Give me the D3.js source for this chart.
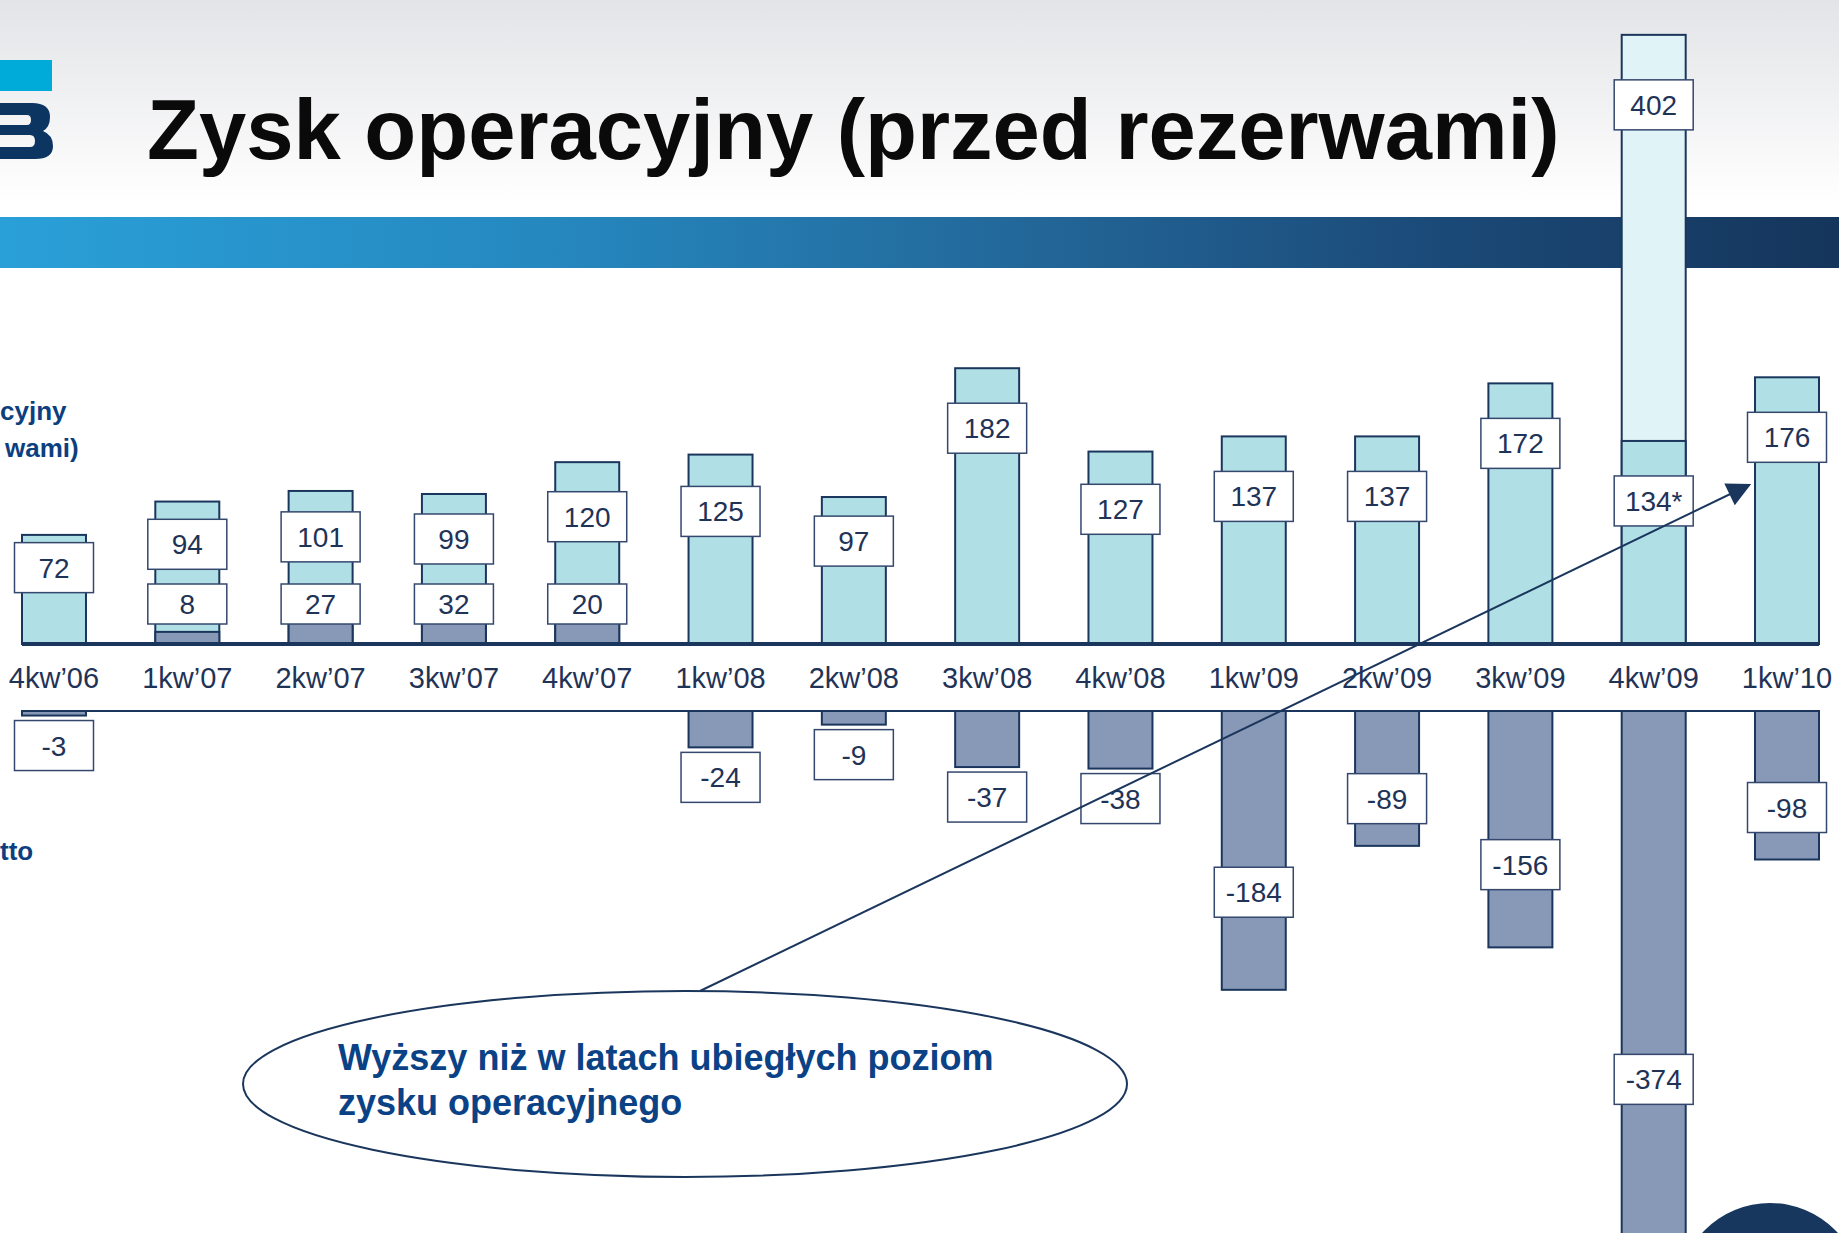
<!DOCTYPE html>
<html>
<head>
<meta charset="utf-8">
<script src="https://cdn.jsdelivr.net/npm/d3@7"></script>
<style>
  body { margin: 0; background: #fff; }
  svg { display: block; font-family: "Liberation Sans", Arial, sans-serif; }
</style>
</head>
<body>
<svg id="chart" width="1839" height="1233"></svg>
<script>
// quarters
const categories = ["4kw’06", "1kw’07", "2kw’07", "3kw’07", "4kw’07", "1kw’08", "2kw’08",
  "3kw’08", "4kw’08", "1kw’09", "2kw’09", "3kw’09", "4kw’09", "1kw’10"];
// operating profit before provisions (4kw'09 without one-off)
const profit = [72, 94, 101, 99, 120, 125, 97, 182, 127, 137, 137, 172, 134, 176];
// lower dark part of the 2007 bars
const profitPart = [0, 8, 27, 32, 20, 0, 0, 0, 0, 0, 0, 0, 0, 0];
// reported total incl. one-off
const profitReported = [null, null, null, null, null, null, null, null, null, null, null, null, 402, null];
const footnoted = ["4kw’09"];
// net provisions
const provisions = [-3, 0, 0, 0, 0, -24, -9, -37, -38, -184, -89, -156, -374, -98];

const W = 1839, H = 1233;
const navy = "#1b365d", txt = "#1f3357", cyan = "#b0dfe5", slate = "#8898b7", pale = "#e0f3f6";

const svg = d3.select("#chart");
const defs = svg.append("defs");

// header backgrounds
const gTop = defs.append("linearGradient").attr("id", "hdr").attr("x1", 0).attr("y1", 0).attr("x2", 0).attr("y2", 1);
gTop.append("stop").attr("offset", 0).attr("stop-color", "#e3e4e7");
gTop.append("stop").attr("offset", 1).attr("stop-color", "#ffffff");
const gBand = defs.append("linearGradient").attr("id", "band").attr("x1", 0).attr("y1", 0).attr("x2", 1).attr("y2", 0);
[[0, "#2aa0d8"], [0.3, "#2588bf"], [0.55, "#23689a"], [0.78, "#1b4a78"], [1, "#15355b"]].forEach(function(s) {
  gBand.append("stop").attr("offset", s[0]).attr("stop-color", s[1]);
});
defs.append("marker").attr("id", "arr").attr("viewBox", "0 0 10 10").attr("refX", 9).attr("refY", 5)
  .attr("markerWidth", 30).attr("markerHeight", 24).attr("markerUnits", "userSpaceOnUse")
  .attr("orient", "auto")
  .append("path").attr("d", "M0,0L10,5L0,10Z").attr("fill", navy);

svg.append("rect").attr("x", 0).attr("y", 0).attr("width", W).attr("height", 205).attr("fill", "url(#hdr)");
svg.append("rect").attr("x", 0).attr("y", 217).attr("width", W).attr("height", 51).attr("fill", "url(#band)");

// logo fragment (right part of the mark, cut by the page edge)
svg.append("rect").attr("x", 0).attr("y", 60).attr("width", 52).attr("height", 31).attr("fill", "#00aad9");
svg.append("path")
  .attr("d", "M0,103H32Q50,103 50,117Q50,127 43,131Q53,135 53,146Q53,159 35,159H0Z" +
    "M0,115H27Q31,115 31,120Q31,125 27,125H0Z" +
    "M0,135H30Q35,135 35,141Q35,147 30,147H0Z")
  .attr("fill-rule", "evenodd").attr("fill", "#0c3561");

// title
svg.append("text").attr("x", 147).attr("y", 159).attr("font-size", 85).attr("font-weight", "bold")
  .attr("fill", "#0a0a0a").text("Zysk operacyjny (przed rezerwami)");

// legend fragments visible at the left edge
const legend = svg.append("g").attr("font-size", 26).attr("font-weight", "bold").attr("fill", "#0d3f7f");
legend.append("text").attr("x", 0).attr("y", 420).text("cyjny");
legend.append("text").attr("x", 5).attr("y", 457).text("wami)");
legend.append("text").attr("x", 0).attr("y", 860).text("tto");

// scales
const x = d3.scaleBand().domain(categories).range([22, 1819]).paddingInner(0.52).paddingOuter(0);
const yTop = d3.scaleLinear().domain([0, 425]).range([644, 0]);
const yBot = d3.scaleLinear().domain([0, -425]).range([711, 1355]);
const bw = x.bandwidth();

// decorative circle bottom right
svg.append("circle").attr("cx", 1770).attr("cy", 1295).attr("r", 92).attr("fill", "#17375f");

// lower baseline
svg.append("line").attr("x1", x.range()[0]).attr("x2", x.range()[1]).attr("y1", yBot(0)).attr("y2", yBot(0))
  .attr("stroke", navy).attr("stroke-width", 2);

// provisions bars
svg.append("g").selectAll("rect").data(categories.filter(function(c, i) { return provisions[i] < 0; }))
  .enter().append("rect")
  .attr("x", function(d) { return x(d); })
  .attr("y", yBot(0))
  .attr("width", bw)
  .attr("height", function(d) { return yBot(provisions[categories.indexOf(d)]) - yBot(0); })
  .attr("fill", slate).attr("stroke", navy).attr("stroke-width", 2);

// reported total (pale) behind
svg.append("g").selectAll("rect").data(categories.filter(function(c, i) { return profitReported[i] != null; }))
  .enter().append("rect")
  .attr("x", function(d) { return x(d); })
  .attr("y", function(d) { return yTop(profitReported[categories.indexOf(d)]); })
  .attr("width", bw)
  .attr("height", function(d) { return yTop(0) - yTop(profitReported[categories.indexOf(d)]); })
  .attr("fill", pale).attr("stroke", navy).attr("stroke-width", 2);

// profit bars
svg.append("g").selectAll("rect").data(categories).enter().append("rect")
  .attr("x", function(d) { return x(d); })
  .attr("y", function(d, i) { return yTop(profit[i]); })
  .attr("width", bw)
  .attr("height", function(d, i) { return yTop(0) - yTop(profit[i]); })
  .attr("fill", cyan).attr("stroke", navy).attr("stroke-width", 2);

// dark lower part
svg.append("g").selectAll("rect").data(categories.filter(function(c, i) { return profitPart[i] > 0; }))
  .enter().append("rect")
  .attr("x", function(d) { return x(d); })
  .attr("y", function(d) { return yTop(profitPart[categories.indexOf(d)]); })
  .attr("width", bw)
  .attr("height", function(d) { return yTop(0) - yTop(profitPart[categories.indexOf(d)]); })
  .attr("fill", slate).attr("stroke", navy).attr("stroke-width", 2);

// upper baseline
svg.append("line").attr("x1", x.range()[0]).attr("x2", x.range()[1]).attr("y1", yTop(0)).attr("y2", yTop(0))
  .attr("stroke", navy).attr("stroke-width", 4);

// category labels
svg.append("g").selectAll("text").data(categories).enter().append("text")
  .attr("x", function(d) { return x(d) + bw / 2; })
  .attr("y", 688)
  .attr("text-anchor", "middle").attr("font-size", 29).attr("fill", txt)
  .text(function(d) { return d; });

// value boxes
const boxes = [];
function topCenter(v) {
  const top = yTop(v), h = yTop(0) - top;
  return Math.min(top + 60, yTop(0) - 0.7 * h);
}
categories.forEach(function(c, i) {
  const cx = x(c) + bw / 2;
  boxes.push({ cx: cx, cy: topCenter(profit[i]), h: 50, t: profit[i] + (footnoted.indexOf(c) >= 0 ? "*" : "") });
  if (profitReported[i] != null)
    boxes.push({ cx: cx, cy: topCenter(profitReported[i]) + 10, h: 50, t: String(profitReported[i]) });
  if (profitPart[i] > 0)
    boxes.push({ cx: cx, cy: yTop(0) - 40, h: 40, t: String(profitPart[i]) });
  if (provisions[i] < 0) {
    const len = yBot(provisions[i]) - yBot(0);
    const cy = len < 90 ? yBot(provisions[i]) + 30 : yBot(0) + 0.65 * len;
    boxes.push({ cx: cx, cy: cy, h: 50, t: String(provisions[i]) });
  }
});
const bx = svg.append("g").selectAll("g").data(boxes).enter().append("g");
bx.append("rect")
  .attr("x", function(d) { return d.cx - 39.5; })
  .attr("y", function(d) { return d.cy - d.h / 2; })
  .attr("width", 79).attr("height", function(d) { return d.h; })
  .attr("fill", "#fff").attr("stroke", "#34486e").attr("stroke-width", 1.5);
bx.append("text")
  .attr("x", function(d) { return d.cx; })
  .attr("y", function(d) { return d.cy + 10; })
  .attr("text-anchor", "middle").attr("font-size", 28).attr("fill", txt)
  .text(function(d) { return d.t; });

// callout
svg.append("ellipse").attr("cx", 685).attr("cy", 1084).attr("rx", 442).attr("ry", 93)
  .attr("fill", "#fff").attr("stroke", navy).attr("stroke-width", 2);
const note = svg.append("g").attr("font-size", 36).attr("font-weight", "bold").attr("fill", "#0b4286");
note.append("text").attr("x", 338).attr("y", 1070).text("Wyższy niż w latach ubiegłych poziom");
note.append("text").attr("x", 338).attr("y", 1115).text("zysku operacyjnego");

svg.append("line").attr("x1", 700).attr("y1", 991).attr("x2", 1749).attr("y2", 485)
  .attr("stroke", navy).attr("stroke-width", 2).attr("marker-end", "url(#arr)");
</script>
</body>
</html>
